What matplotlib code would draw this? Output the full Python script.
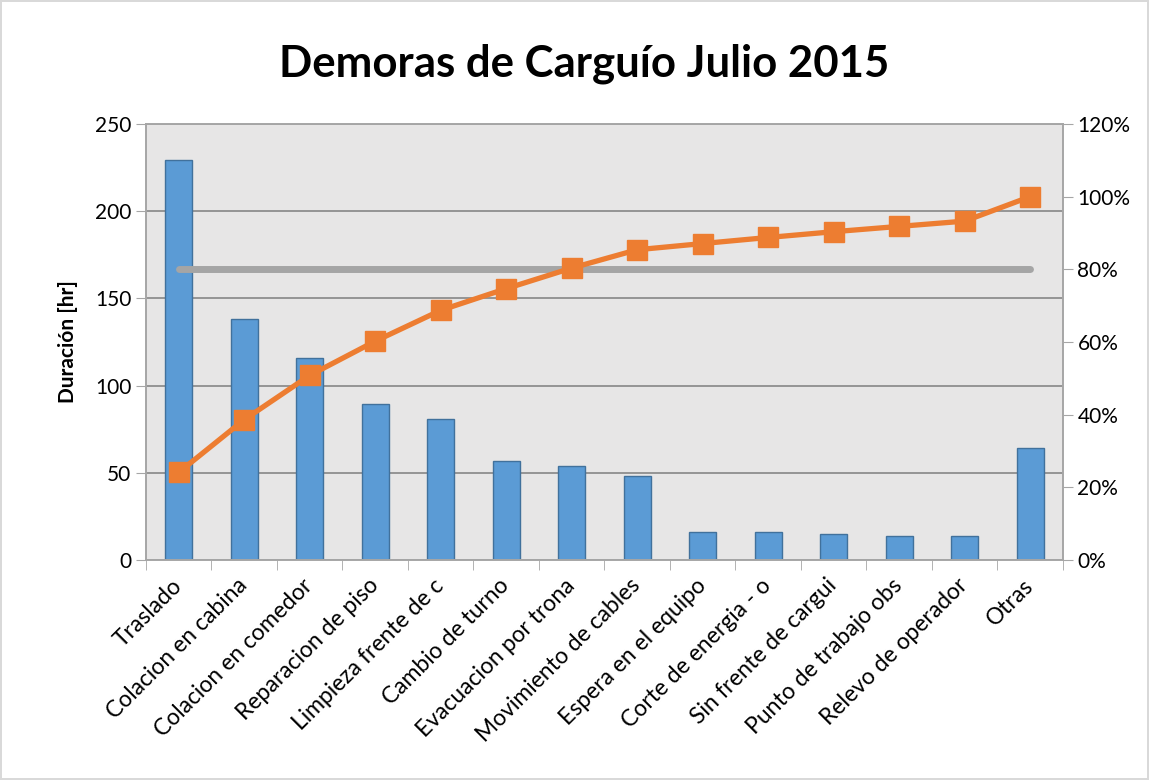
import numpy as np
import matplotlib.pyplot as plt
from matplotlib.ticker import PercentFormatter

plt.rcParams['font.family'] = ['Lato', 'DejaVu Sans']

categorias = ["Traslado", "Colacion en cabina", "Colacion en comedor", "Reparacion de piso",
              "Limpieza frente de c", "Cambio de turno", "Evacuacion por trona",
              "Movimiento de cables", "Espera en el equipo", "Corte de energia - o",
              "Sin frente de cargui", "Punto de trabajo obs", "Relevo de operador", "Otras"]
duracion = [229.4, 138.0, 116.0, 89.6, 80.8, 56.8, 53.9, 48.0, 16.2, 15.9, 15.1, 13.9, 13.8, 64.0]
limite = 0.80  # linea del 80%

# Porcentaje acumulado (Pareto)
acumulado = np.cumsum(duracion) / np.sum(duracion)

x = np.arange(len(categorias))

fig = plt.figure(figsize=(11.49, 7.8), dpi=100)
fig.patch.set_edgecolor('#D9D9D9')
fig.patch.set_linewidth(1.5)
ax = fig.add_axes([0.127, 0.282, 0.798, 0.559])
ax.set_facecolor('#E7E6E6')

ax.bar(x, duracion, width=0.41, color='#5B9BD5', edgecolor='#41719C', linewidth=1, zorder=2)
ax.set_xlim(-0.5, len(categorias) - 0.5)
ax.set_ylim(0, 250)
ax.set_yticks(range(0, 251, 50))
ax.yaxis.grid(True, color='#868686', linewidth=1.2, zorder=0)
ax.set_axisbelow(True)
ax.set_xticks(x)
ax.set_xticklabels(categorias, rotation=45, ha='right', va='center', rotation_mode='anchor', fontsize=16.5)
ax.set_xticks(np.arange(-0.5, len(categorias), 1), minor=True)
ax.tick_params(axis='x', which='major', length=0, pad=16)
ax.tick_params(axis='x', which='minor', length=7, color='#A6A6A6')
ax.tick_params(axis='y', labelsize=15, length=7, color='#A6A6A6')
ax.set_ylabel("Duración [hr]", fontsize=15, fontweight='bold', labelpad=12)
for s in ax.spines.values():
    s.set_color('#A6A6A6')
    s.set_linewidth(1.2)

ax2 = ax.twinx()
ax2.plot(x, acumulado, color='#ED7D31', linewidth=3.8, marker='s', markersize=14, zorder=3)
ax2.plot([x[0], x[-1]], [limite, limite], color='#A5A5A5', linewidth=5, solid_capstyle='round', zorder=2)
ax2.set_ylim(0, 1.2)
ax2.set_yticks(np.arange(0, 1.21, 0.2))
ax2.yaxis.set_major_formatter(PercentFormatter(1.0, decimals=0))
ax2.tick_params(axis='y', labelsize=15, length=7, color='#A6A6A6')
for s in ax2.spines.values():
    s.set_color('#A6A6A6')
    s.set_linewidth(1.2)

fig.text(0.508, 0.918, "Demoras de Carguío Julio 2015", ha='center', va='center',
         fontsize=31.5, fontweight='bold')

plt.savefig('out.png', dpi=100, edgecolor=fig.get_edgecolor())
